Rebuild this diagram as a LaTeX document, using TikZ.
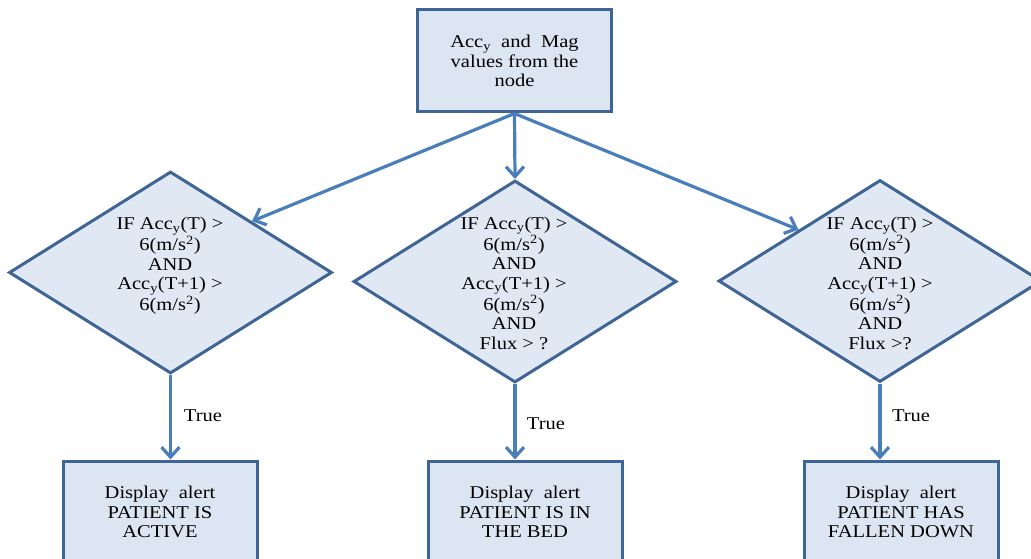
\documentclass[tikz,border=0pt]{standalone}
\usepackage{fontspec}
\setmainfont{Liberation Serif}[FakeStretch=1.14]
\newfontfamily\widefont{Liberation Serif}[FakeStretch=1.14,WordSpace=2]
\usetikzlibrary{shapes.geometric,arrows.meta}
\definecolor{boxfill}{HTML}{DCE6F2}
\definecolor{diafill}{HTML}{E0E8F3}
\definecolor{edgec}{HTML}{3F6597}
\definecolor{arrowc}{HTML}{4A7EBB}
\begin{document}
\begin{tikzpicture}[x=1pt,y=-1pt,
  every node/.style={font=\fontsize{18}{19.5}\selectfont},
  box/.style={draw=edgec, fill=boxfill, line width=3pt, minimum width=194pt, minimum height=102pt, inner sep=0pt, align=center},
  dia/.style={diamond, draw=edgec, fill=diafill, line width=3pt, inner sep=0pt, minimum width=323pt, minimum height=202pt},
  txt/.style={align=center, inner sep=0pt},
  arr/.style={draw=arrowc, line width=3.2pt, -{Straight Barb[length=10pt,width=18pt]}},
  lbl/.style={inner sep=0pt}]
\useasboundingbox (0,0) rectangle (1031,559);
\clip (0,0) rectangle (1031,559);
% top box
\node[box] (top) at (514.5,61) {\widefont Acc\textsubscript{y} and Mag\\ values from the\\ node};
% diamonds
\node[dia] (ld) at (170.5,272.5) {};
\node[txt] (ldt) at (170,266) {IF Acc\textsubscript{y}(T) >\\ 6(m/s\textsuperscript{2})\\ AND\\ Acc\textsubscript{y}(T+1) >\\ 6(m/s\textsuperscript{2})};
\node[dia] (md) at (515,281.5) {};
\node[txt] (mdt) at (514,283) {IF Acc\textsubscript{y}(T) >\\ 6(m/s\textsuperscript{2})\\ AND\\ Acc\textsubscript{y}(T+1) >\\ 6(m/s\textsuperscript{2})\\ AND\\ Flux > ?};
\node[dia] (rd) at (880,281) {};
\node[txt] (rdt) at (880,283) {IF Acc\textsubscript{y}(T) >\\ 6(m/s\textsuperscript{2})\\ AND\\ Acc\textsubscript{y}(T+1) >\\ 6(m/s\textsuperscript{2})\\ AND\\ Flux >?};
% bottom boxes
\node[box] (lb) at (160,512) {\widefont Display alert\\ PATIENT IS\\ ACTIVE};
\node[box] (mb) at (525,512) {\widefont Display alert\\ PATIENT IS IN\\ THE BED};
\node[box] (rb) at (901,512) {\widefont Display alert\\ PATIENT HAS\\ FALLEN DOWN};
% connectors
\draw[arr] (top.south) -- (ld.north east);
\draw[arr] (top.south) -- (md.north);
\draw[arr] (top.south) -- (rd.north west);
\draw[arr] (ld.south) -- (ld.south |- lb.north);
\draw[arr] (md.south) -- (md.south |- mb.north);
\draw[arr] (rd.south) -- (rd.south |- rb.north);
% labels
\node[lbl] (t1) at (203,416) {True};
\node[lbl] (t2) at (546,424) {True};
\node[lbl] (t3) at (911,416) {True};
\end{tikzpicture}
\end{document}
